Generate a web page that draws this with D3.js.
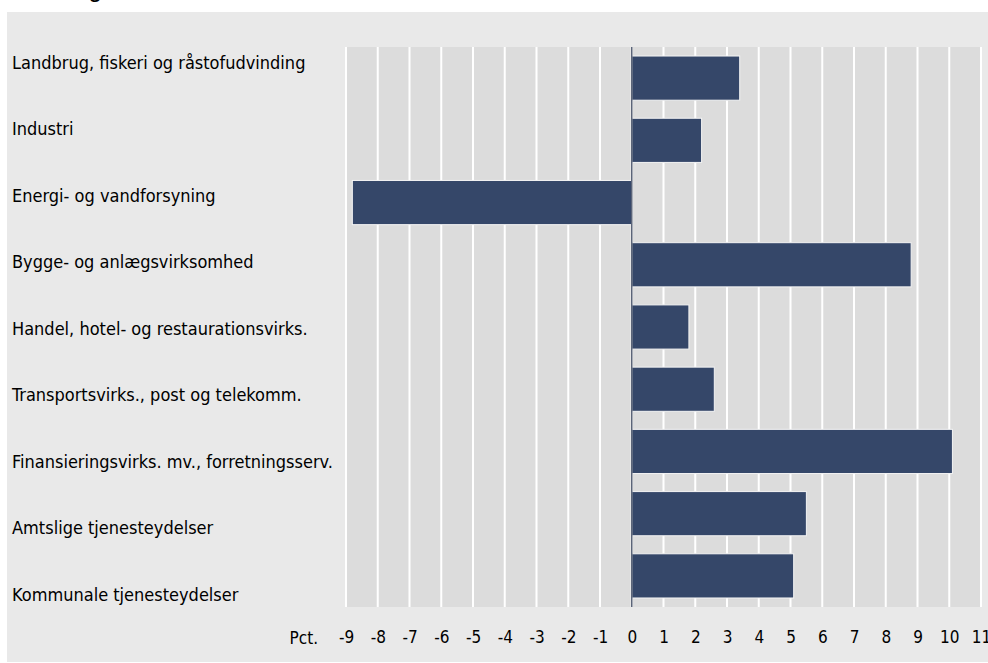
<!DOCTYPE html>
<html>
<head>
<meta charset="utf-8">
<script src="https://cdn.jsdelivr.net/npm/d3@7"></script>
<style>
  body { margin: 0; background: #fff; }
  text { font-family: "Liberation Sans Narrow", "DejaVu Sans Condensed", sans-serif; fill: #000; }
</style>
</head>
<body>
<div id="chart"></div>
<script>
// categories and values (pct.)
var categories = [
  "Landbrug, fiskeri og råstofudvinding",
  "Industri",
  "Energi- og vandforsyning",
  "Bygge- og anlægsvirksomhed",
  "Handel, hotel- og restaurationsvirks.",
  "Transportsvirks., post og telekomm.",
  "Finansieringsvirks. mv., forretningsserv.",
  "Amtslige tjenesteydelser",
  "Kommunale tjenesteydelser"
];
var values = [3.4, 2.2, -8.8, 8.8, 1.8, 2.6, 10.1, 5.5, 5.1];
var tickValues = [-9, -8, -7, -6, -5, -4, -3, -2, -1, 0, 1, 2, 3, 4, 5, 6, 7, 8, 9, 10, 11];
var unitLabel = "Pct.";
var title = "Udvikling i bruttoværditilvækst";

var W = 988, H = 663;
var plot = {left: 346, right: 981, top: 47, bottom: 607};

var svg = d3.select("#chart").append("svg")
    .attr("width", W)
    .attr("height", H);

// title, cut off at the top edge
svg.append("text")
    .attr("x", 20)
    .attr("y", -2)
    .style("font-family", "'Open Sans', sans-serif")
    .style("font-weight", "bold")
    .style("font-size", "17px")
    .text(title);

// outer panel
svg.append("rect")
    .attr("x", 7).attr("y", 12)
    .attr("width", W - 7).attr("height", H - 13)
    .attr("fill", "#e9e9e9");

var x = d3.scaleLinear().domain([-9, 11]).range([plot.left, plot.right]);
var y = d3.scaleBand().domain(categories).range([plot.top, plot.bottom]).paddingInner(0.29).paddingOuter(0.145);
var yLabel = d3.scaleBand().domain(categories).range([29, 628]);

// plot background
svg.append("rect")
    .attr("x", plot.left).attr("y", plot.top)
    .attr("width", plot.right - plot.left).attr("height", plot.bottom - plot.top)
    .attr("fill", "#dcdcdc");

// vertical gridlines
svg.append("g").selectAll("line")
    .data(tickValues)
  .enter().append("line")
    .attr("x1", function(d) { return x(d); })
    .attr("x2", function(d) { return x(d); })
    .attr("y1", plot.top)
    .attr("y2", plot.bottom)
    .attr("stroke", "#fff")
    .attr("stroke-width", 2);

// bars
svg.append("g").selectAll("rect")
    .data(values)
  .enter().append("rect")
    .attr("x", function(d) { return x(Math.min(0, d)); })
    .attr("y", function(d, i) { return y(categories[i]); })
    .attr("width", function(d) { return Math.abs(x(d) - x(0)); })
    .attr("height", y.bandwidth())
    .attr("fill", "#354769")
    .attr("stroke", "#f4f4f4")
    .attr("stroke-width", 1);

// zero line
svg.append("line")
    .attr("x1", x(0)).attr("x2", x(0))
    .attr("y1", plot.top).attr("y2", plot.bottom)
    .attr("stroke", "#5b6478")
    .attr("stroke-width", 1.5);

// category labels
svg.append("g").selectAll("text")
    .data(categories)
  .enter().append("text")
    .attr("x", 12)
    .attr("y", function(d) { return yLabel(d) + yLabel.bandwidth() / 2; })
    .attr("dy", "0.35em")
    .style("font-size", "18px")
    .text(function(d) { return d; });

// x axis
var xAxis = svg.append("g")
    .attr("transform", "translate(0," + plot.bottom + ")")
    .call(d3.axisBottom(x).tickValues(tickValues).tickSize(0).tickPadding(24)
      .tickFormat(function(d) { return String(d); }));
xAxis.select(".domain").remove();
xAxis.selectAll("text")
    .style("font-size", "17px")
    .style("font-family", "'Liberation Sans Narrow', 'DejaVu Sans Condensed', sans-serif");

svg.append("text")
    .attr("x", 318)
    .attr("y", 644)
    .attr("text-anchor", "end")
    .style("font-size", "17px")
    .text(unitLabel);
</script>
</body>
</html>
